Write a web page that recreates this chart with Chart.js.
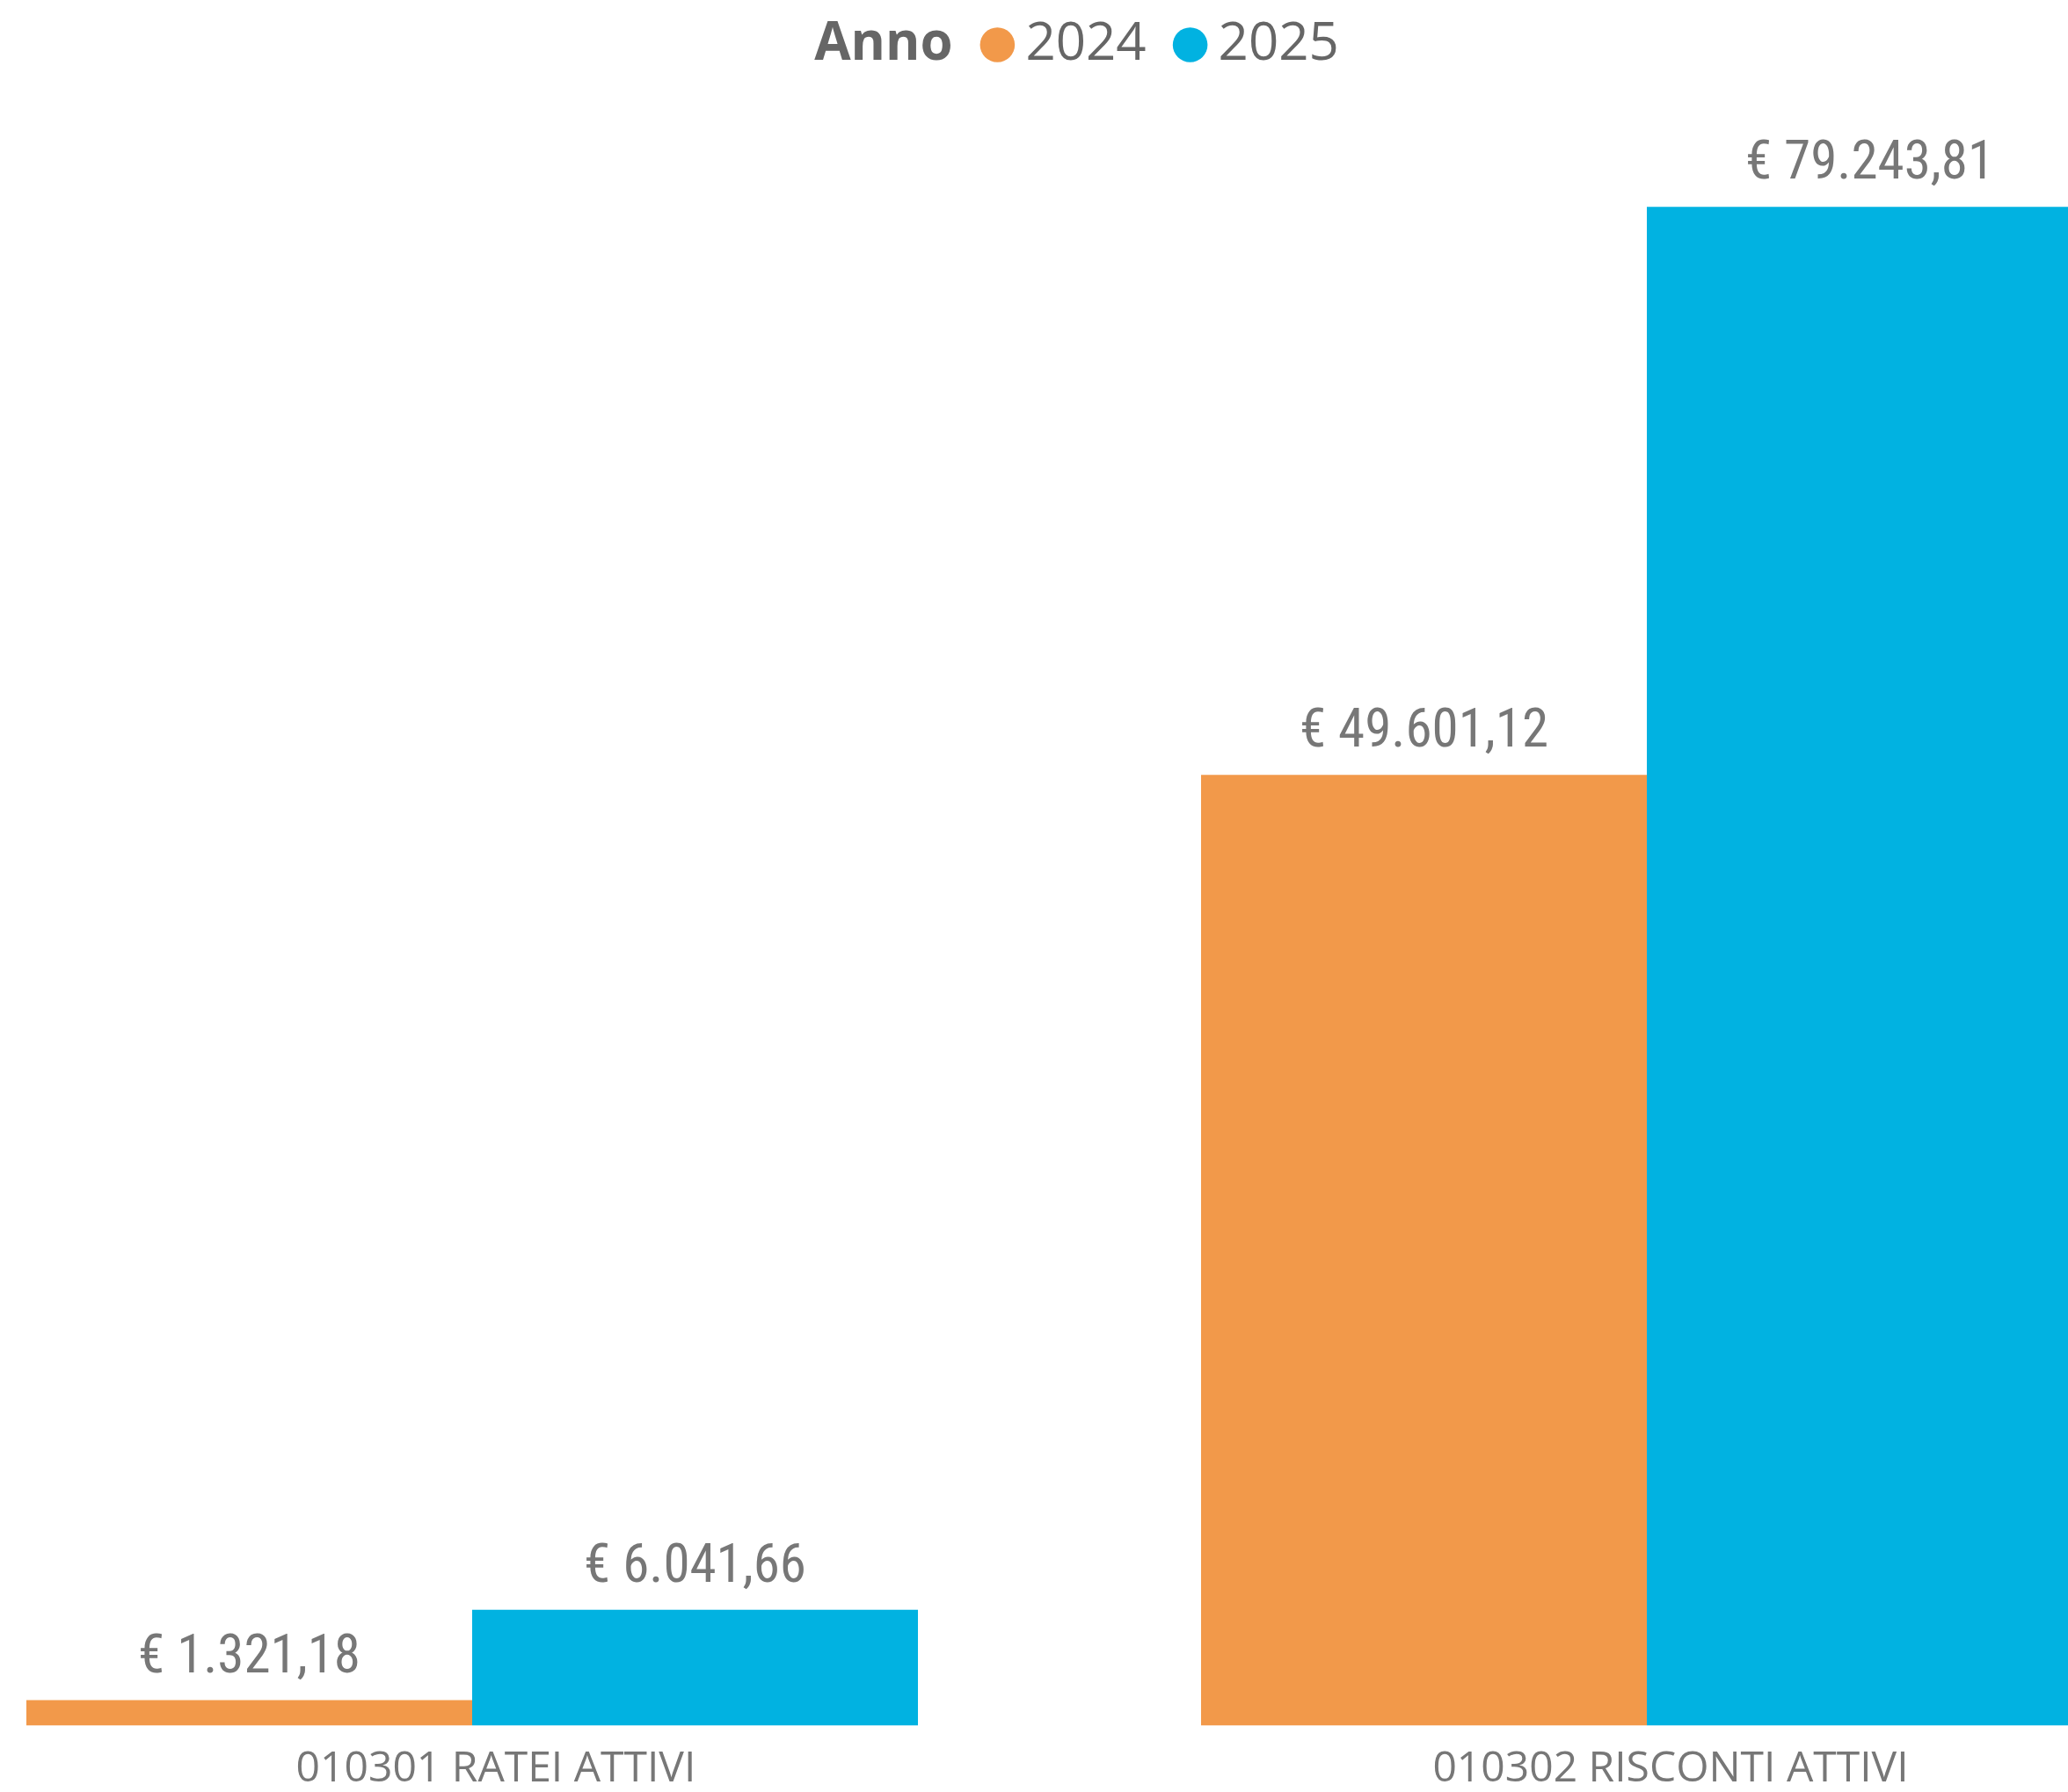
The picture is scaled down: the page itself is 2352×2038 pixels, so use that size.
<!DOCTYPE html>
<html><head><meta charset="utf-8">
<script src="https://cdn.jsdelivr.net/npm/chart.js@4.4.1/dist/chart.umd.min.js"></script>
<style>
html,body{margin:0;padding:0;background:#fff;overflow:hidden;width:2352px;height:2038px;}
#wrap{position:absolute;left:-131px;top:0;width:2702px;height:2038px;}
canvas{display:block;}
</style></head><body>
<div id="wrap"><canvas id="c" width="2702" height="2038"></canvas></div>
<script>
const categories = ['010301 RATEI ATTIVI', '010302 RISCONTI ATTIVI'];
const seriesNames = ['2024', '2025'];
const values2024 = [1321.18, 49601.12];
const values2025 = [6041.66, 79243.81];
const legendTitle = 'Anno';
const seriesColors = ['#F2994A', '#01B2E1'];

const LEG_BOX_W = 4, LEG_BOX_H = 28;

function fmtEuro(v) {
  const parts = v.toFixed(2).split('.');
  return '€ ' + parts[0].replace(/\B(?=(\d{3})+(?!\d))/g, '.') + ',' + parts[1];
}

const valueLabels = {
  id: 'valueLabels',
  afterDatasetsDraw(chart) {
    const ctx = chart.ctx;
    ctx.save();
    ctx.font = '61px "Liberation Sans Narrow", "Roboto Condensed", "DejaVu Sans Condensed", sans-serif';
    ctx.fillStyle = '#777777';
    ctx.textAlign = 'center';
    ctx.textBaseline = 'alphabetic';
    chart.data.datasets.forEach((ds, di) => {
      const meta = chart.getDatasetMeta(di);
      meta.data.forEach((el, i) => {
        ctx.fillText(fmtEuro(ds.data[i]), el.x, el.y - 32);
      });
    });
    ctx.restore();
  }
};

const legendTitlePlugin = {
  id: 'legendTitleInline',
  afterDraw(chart) {
    const boxes = chart.legend && chart.legend.legendHitBoxes;
    if (!boxes || boxes.length < 2) return;
    const hb0 = boxes[0], hb1 = boxes[1];
    const r = LEG_BOX_H * Math.SQRT2 / 2;
    const ctx = chart.ctx;
    ctx.save();
    ctx.font = 'bold 60px "Open Sans", sans-serif';
    ctx.fillStyle = '#666666';
    ctx.textAlign = 'right';
    ctx.textBaseline = 'middle';
    ctx.fillText(legendTitle, hb1.left + LEG_BOX_W / 2 - r - 31, hb0.top + hb0.height / 2);
    ctx.restore();
  }
};

new Chart(document.getElementById('c'), {
  type: 'bar',
  data: {
    labels: categories,
    datasets: [
      { label: seriesNames[0], data: values2024, backgroundColor: seriesColors[0], borderWidth: 0, categoryPercentage: 0.759, barPercentage: 1.0 },
      { label: seriesNames[1], data: values2025, backgroundColor: seriesColors[1], borderWidth: 0, categoryPercentage: 0.759, barPercentage: 1.0 }
    ]
  },
  options: {
    responsive: false,
    animation: false,
    devicePixelRatio: 1,
    layout: { padding: { top: -27, right: 30, bottom: -24, left: 0 } },
    plugins: {
      tooltip: { enabled: false },
      legend: {
        position: 'top',
        align: 'center',
        onClick: () => {},
        labels: {
          usePointStyle: true,
          pointStyle: 'circle',
          boxWidth: LEG_BOX_W,
          boxHeight: LEG_BOX_H,
          padding: 48,
          color: '#666666',
          font: { family: '"Open Sans", sans-serif', size: 60 },
          generateLabels(chart) {
            const base = Chart.defaults.plugins.legend.labels.generateLabels(chart);
            // invisible placeholder item reserving room for the inline bold legend title
            return [{ text: legendTitle + ' ', fillStyle: 'rgba(0,0,0,0)', strokeStyle: 'rgba(0,0,0,0)', lineWidth: 0, fontColor: 'rgba(0,0,0,0)', pointStyle: 'circle', hidden: false, datasetIndex: -1 }]
              .concat(base.map(it => Object.assign({}, it, { lineWidth: 0 })));
          }
        }
      }
    },
    scales: {
      x: {
        grid: { display: false, drawTicks: false },
        border: { display: false },
        ticks: { color: '#777777', font: { family: '"Open Sans", sans-serif', size: 48 }, padding: 21, labelOffset: 27 }
      },
      y: { display: false, min: 0, max: 85860 }
    }
  },
  plugins: [valueLabels, legendTitlePlugin]
});
</script>
</body></html>
